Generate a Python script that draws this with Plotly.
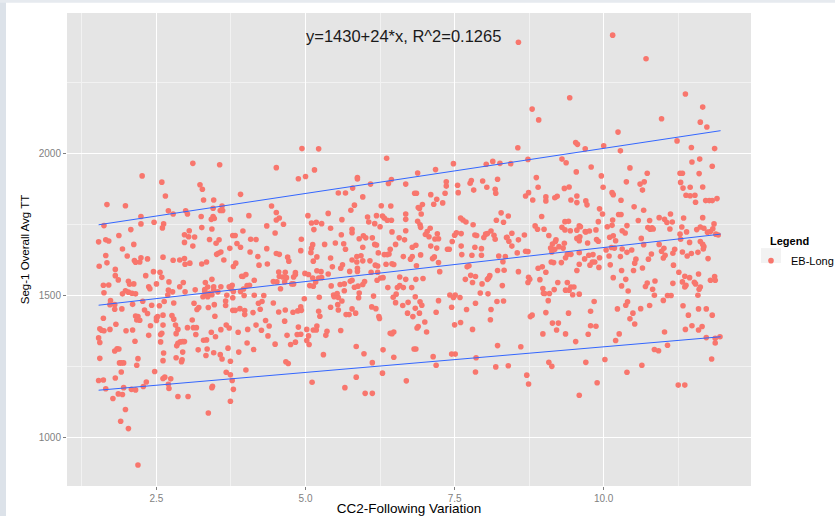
import plotly.graph_objects as go

# ---------------- data ----------------
pts_top = [(8.57,2392),(10.15,2417),(10.71,2334),(9.43,2197),(8.80,2157),(8.91,2119),(11.37,2210),
           (11.66,2164),(10.97,2123),(11.62,2111),(11.73,2094),(10.24,2076)]

pts_a = [(3.11,1966),(3.56,1961),(2.26,1922),(2.59,1900),(3.23,1891),(3.27,1875),(2.65,1851),(1.67,1821),
         (1.98,1817),(3.29,1837),(3.46,1837),(3.60,1816),(2.24,1779),(1.62,1747),(2.70,1799),(2.99,1799),
         (2.78,1788),(3.02,1788),(3.45,1808),(3.57,1800),(3.61,1800),(3.91,1857),(3.25,1779),(3.45,1779),
         (3.47,1772),(3.42,1769),(3.74,1768),(2.62,1753),(2.46,1759),(2.24,1753),(2.60,1739),(2.07,1733),
         (3.26,1740),(3.43,1735),(3.05,1729),(2.97,1715),(3.04,1708),(3.14,1707),(1.87,1712),(1.53,1690),
         (1.65,1697),(1.70,1693),(2.12,1681),(1.93,1665),(2.97,1688),(3.11,1675),(3.39,1698),(3.55,1697),
         (3.50,1685),(3.78,1712),(3.82,1712),(3.85,1684),(3.91,1671),(3.73,1667),(3.54,1650),(3.51,1646),
         (3.58,1654),(1.65,1642),(2.01,1640),(2.24,1634),(2.35,1630),(2.13,1624),(2.15,1618),(2.22,1619),
         (2.61,1636),(2.78,1625),(2.89,1626),(2.97,1631),(2.98,1611),(3.06,1615),(3.26,1612),(3.34,1619),
         (3.63,1626),(3.79,1603),(3.83,1615),(1.67,1616),(1.54,1604),(1.81,1593),(1.81,1571),(1.86,1556),
         (2.32,1571),(2.45,1585),(2.56,1583),(2.59,1565),(2.03,1551),(2.05,1541),(2.12,1542),(1.61,1537),
         (1.70,1538),(2.37,1532),(2.39,1525),(2.50,1542),(2.71,1549),(2.89,1532),(2.95,1547),(3.32,1547),
         (3.43,1558),(3.46,1532),(3.58,1532),(3.72,1532),(3.77,1537),(3.75,1525),(3.93,1569),(2.70,1520),
         (2.77,1514),(2.69,1503),(3.31,1522),(3.31,1515),(3.36,1531),(1.62,1511),(2.03,1513),(2.09,1509),
         (2.15,1507),(1.98,1518),(1.93,1507),(2.98,1514),(3.15,1521),(3.39,1509),(3.33,1503),(3.46,1521),
         (3.43,1504),(3.36,1497),(3.28,1497),(3.53,1514),(3.79,1515),(3.91,1515),(3.68,1502),(3.78,1493)]

pts_b = [(1.73,1483),(1.72,1469),(1.80,1469),(1.92,1454),(1.80,1453),(2.10,1470),(2.27,1481),(2.42,1467),
         (2.30,1450),(2.35,1438),(2.55,1465),(2.63,1480),(2.79,1475),(3.13,1474),(3.21,1459),(3.18,1452),
         (3.37,1459),(3.47,1469),(3.66,1466),(3.66,1482),(3.78,1449),(3.82,1449),(3.90,1455),(3.48,1428),
         (3.10,1415),(1.61,1421),(1.82,1400),(1.72,1382),(1.55,1384),(1.58,1379),(1.62,1377),(1.99,1377),
         (2.10,1380),(2.15,1429),(2.19,1427),(2.17,1415),(2.22,1414),(2.40,1395),(2.37,1361),(2.50,1423),
         (2.52,1427),(2.61,1432),(2.50,1413),(2.61,1397),(2.76,1431),(2.79,1418),(2.82,1397),(2.86,1382),
         (2.83,1367),(3.02,1388),(3.12,1388),(3.17,1388),(3.16,1364),(3.42,1372),(3.49,1356),(3.58,1381),
         (3.67,1397),(3.72,1387),(3.87,1372),(1.53,1352),(1.55,1336),(2.14,1340),(2.57,1364),(2.59,1368),
         (2.57,1338),(2.90,1338),(2.94,1339),(2.97,1339),(2.86,1333),(2.84,1324),(2.94,1302),(1.80,1306),
         (1.84,1314),(1.87,1313),(3.20,1310),(3.29,1344),(3.34,1345),(3.35,1313),(3.33,1290),(3.46,1300),
         (3.57,1293),(3.70,1316),(3.60,1278),(3.74,1270),(3.88,1302),(2.62,1299),(2.61,1272),(2.93,1275),
         (2.92,1268),(2.83,1282),(1.55,1280),(2.19,1279),(2.17,1256),(1.88,1264),(1.91,1264),(1.95,1264),
         (1.91,1232),(1.81,1211),(1.53,1202),(1.61,1204),(2.47,1234),(2.61,1209),(2.64,1214),(2.74,1208),
         (2.33,1197),(2.28,1181),(2.70,1189),(2.71,1174),(1.95,1177),(1.65,1173),(2.08,1171),(2.15,1169),
         (3.67,1231),(3.74,1222),(3.77,1202),(3.44,1182),(3.43,1177),(3.79,1171),(1.77,1139),(1.86,1155),
         (1.93,1153),(2.86,1146),(3.03,1146),(3.74,1129),(3.37,1088),(1.98,1100),(1.90,1059),(2.03,1033),
         (2.19,905)]

pts_c = [(4.94,2018),(5.22,2017),(6.36,1984),(4.51,1951),(5.15,1943),(4.88,1912),(5.00,1920),(5.87,1916),
         (5.87,1911),(5.55,1862),(5.67,1862),(5.79,1879),(6.09,1893),(6.39,1895),(6.44,1909),(6.68,1893),
         (6.83,1861),(4.43,1816),(4.51,1793),(4.05,1782),(4.56,1774),(4.51,1767),(4.63,1752),(4.35,1746),
         (5.04,1782),(5.38,1790),(5.82,1819),(5.76,1801),(5.96,1848),(5.10,1756),(5.18,1759),(5.27,1754),
         (5.14,1733),(5.42,1738),(5.61,1768),(6.04,1777),(6.06,1760),(6.19,1782),(6.29,1781),(6.32,1774),
         (6.37,1766),(6.44,1766),(6.27,1817),(6.43,1816),(6.68,1788),(6.68,1769),(6.16,1754),(6.25,1743),
         (6.45,1725),(6.68,1729),(3.95,1728),(5.78,1734),(5.78,1722),(5.60,1715),(4.08,1699),(4.17,1698),
         (4.49,1721),(4.93,1699),(5.50,1686),(5.32,1681),(5.12,1680),(5.10,1667),(4.35,1666),(4.92,1659),
         (5.90,1701),(5.97,1711),(6.01,1704),(6.12,1704),(5.64,1683),(5.67,1664),(5.96,1671),(6.16,1681),
         (6.19,1679),(6.51,1681),(6.57,1704),(6.66,1697),(4.07,1654),(4.51,1649),(4.56,1646),(4.70,1636),
         (4.72,1622),(4.20,1638),(4.36,1612),(4.22,1608),(5.09,1652),(5.19,1637),(5.42,1633),(5.13,1622),
         (5.45,1602),(5.59,1597),(5.62,1609),(5.78,1626),(5.86,1638),(5.93,1641),(5.86,1619),(5.96,1623),
         (5.87,1597),(6.22,1651),(6.32,1645),(6.37,1645),(6.40,1647),(6.42,1664),(6.64,1638),(6.76,1629),
         (6.79,1638),(6.79,1671),(6.35,1611),(6.45,1613),(6.48,1610),(6.08,1623),(6.21,1605),(6.17,1608),
         (4.55,1584),(4.56,1568),(4.66,1583),(4.62,1566),(4.83,1582),(4.83,1575),(4.80,1566),(4.99,1579),
         (5.05,1575),(5.19,1588),(5.26,1585),(5.38,1577),(5.12,1563),(5.22,1563),(5.27,1564),(5.17,1549),
         (4.68,1564),(4.77,1542),(4.80,1542),(4.65,1549),(4.52,1549),(4.46,1550),(4.14,1555),(3.95,1568),
         (4.00,1575),(3.96,1524),(4.02,1536),(4.06,1537),(5.74,1586),(5.87,1586),(6.10,1583),(6.21,1583),
         (6.26,1563),(6.20,1555),(6.30,1564),(6.58,1566),(6.68,1558),(6.38,1529),(6.54,1529),(6.58,1536),
         (6.64,1529),(6.78,1529),(5.88,1534),(5.96,1540),(5.82,1530),(5.78,1555),(5.99,1550),(5.75,1551),
         (5.58,1540),(5.65,1542),(5.65,1518),(5.43,1535),(5.07,1536),(5.13,1534),(4.58,1525),(4.30,1501),
         (3.97,1501),(4.14,1502),(4.98,1490),(5.23,1495),(5.47,1503),(5.48,1497),(5.53,1508),(5.55,1494),
         (5.89,1493),(5.90,1510),(6.14,1499),(6.47,1495),(6.52,1506)]

pts_d = [(3.98,1448),(3.98,1434),(4.12,1441),(4.21,1474),(4.27,1480),(4.46,1475),(4.24,1453),(4.55,1443),
         (4.66,1450),(4.79,1442),(4.87,1447),(4.92,1461),(4.93,1449),(5.22,1446),(5.24,1428),(5.42,1460),
         (5.54,1469),(5.55,1450),(5.61,1482),(5.78,1454),(5.68,1434),(5.73,1434),(5.84,1439),(6.11,1461),
         (6.18,1455),(6.23,1427),(6.24,1420),(6.51,1476),(6.63,1466),(6.72,1477),(6.71,1439),(6.80,1427),
         (4.17,1397),(4.03,1382),(4.26,1379),(4.33,1413),(4.39,1394),(4.65,1411),(4.37,1359),(4.02,1334),
         (4.13,1311),(4.49,1330),(4.69,1361),(4.88,1390),(4.92,1365),(4.86,1364),(4.83,1337),(4.75,1329),
         (5.02,1382),(5.05,1359),(5.02,1343),(5.06,1329),(5.13,1380),(5.19,1394),(5.18,1380),(5.36,1375),
         (5.34,1361),(5.59,1378),(5.30,1293),(4.67,1268),(4.71,1262),(4.00,1239),(5.85,1322),(5.98,1296),
         (6.12,1265),(6.30,1310),(6.42,1368),(6.48,1373),(6.45,1367),(6.48,1284),(6.29,1228),(5.85,1214),
         (5.11,1196),(5.66,1177),(6.00,1157),(6.12,1157),(6.69,1201),(6.82,1313)]

pts_e = [(8.56,2021),(9.53,2039),(9.56,2033),(9.69,2017),(7.48,1965),(8.03,1963),(8.14,1973),(8.26,1966),
         (8.44,1965),(8.73,1980),(9.30,1981),(9.37,1968),(7.18,1944),(6.88,1932),(9.54,1936),(7.36,1901),
         (7.36,1886),(7.55,1889),(7.56,1863),(7.78,1906),(7.76,1896),(7.82,1872),(7.97,1904),(8.04,1882),
         (8.22,1910),(8.18,1875),(8.19,1861),(6.86,1861),(7.34,1861),(7.10,1856),(7.20,1840),(7.15,1822),
         (7.30,1827),(6.96,1821),(6.91,1807),(6.94,1788),(6.89,1811),(8.87,1916),(8.90,1882),(9.42,1883),
         (9.34,1878),(8.74,1863),(8.69,1851),(8.81,1837),(9.03,1848),(9.03,1834),(9.18,1845),(9.22,1850),
         (9.45,1837),(9.55,1851),(9.55,1828),(9.70,1834),(9.72,1820),(7.60,1774),(7.64,1767),(7.69,1760),
         (8.20,1766),(8.28,1792),(8.32,1759),(8.40,1781),(8.96,1779),(9.35,1761),(9.41,1762),(9.59,1746),
         (9.61,1743),(9.30,1741),(9.35,1732),(9.44,1729),(9.55,1731),(9.69,1726),(6.88,1762),(6.92,1750),
         (6.93,1741),(7.09,1738),(7.04,1726),(7.01,1716),(7.07,1708),(7.21,1718),(7.17,1700),(7.23,1701),
         (7.50,1713),(7.53,1722),(7.61,1719),(7.81,1750),(7.84,1714),(7.87,1712),(7.99,1705),(8.02,1717),
         (8.11,1728),(8.05,1719),(8.16,1713),(8.18,1699),(8.37,1705),(8.38,1706),(8.46,1720),(8.41,1692),
         (8.46,1675),(8.57,1697),(8.67,1714),(8.85,1746),(8.89,1734),(9.00,1734),(9.08,1712),(9.20,1697),
         (9.19,1691),(9.14,1682),(9.11,1668),(9.18,1664),(9.25,1673),(9.34,1685),(9.55,1702),(9.59,1694),
         (9.60,1708),(9.70,1725),(9.73,1686),(6.85,1678),(7.10,1675),(7.20,1668),(7.38,1664),(7.41,1664),
         (7.46,1691),(7.61,1675),(7.84,1671),(7.95,1666),(6.93,1644),(7.13,1631),(7.16,1637),(7.23,1617),
         (7.62,1645),(7.79,1643),(7.95,1643),(8.24,1640),(8.35,1638),(8.31,1620),(8.55,1651),(8.69,1657),
         (8.73,1656),(9.13,1654),(9.32,1668),(9.39,1646),(9.36,1634),(9.45,1646),(9.59,1652),(9.68,1630),
         (9.12,1619),(9.16,1617),(9.29,1617),(9.59,1611),(9.55,1589),(6.86,1606),(7.71,1602),(7.74,1606),
         (7.25,1585),(6.85,1558),(6.97,1561),(7.77,1572),(7.85,1568),(7.80,1547),(7.68,1558),(7.96,1542),
         (8.09,1571),(8.07,1563),(8.05,1558),(8.22,1589),(8.33,1590),(8.30,1536),(8.57,1585),(8.74,1565),
         (8.76,1558),(8.73,1547),(8.93,1557),(8.90,1597),(8.97,1602),(9.03,1583),(8.98,1526),(8.99,1509),
         (9.01,1508),(9.09,1508),(9.17,1522),(9.23,1547),(9.39,1547),(9.45,1531),(9.42,1520),(9.50,1531),
         (9.36,1520),(9.48,1504),(9.59,1506),(6.84,1497),(7.42,1503),(7.51,1503),(7.48,1494),(7.59,1494),
         (7.93,1510),(8.06,1507)]

pts_f = [(6.92,1479),(6.95,1467),(6.84,1456),(6.91,1439),(7.23,1483),(7.45,1460),(7.19,1442),(7.00,1408),
         (6.89,1392),(6.87,1387),(7.03,1373),(7.70,1452),(7.85,1474),(8.21,1480),(8.32,1482),(8.11,1452),
         (8.10,1416),(7.60,1406),(7.50,1398),(7.80,1382),(8.77,1427),(8.80,1432),(9.03,1441),(9.07,1483),
         (9.41,1439),(9.14,1404),(9.24,1404),(9.21,1380),(8.98,1366),(9.36,1366),(9.53,1339),(9.74,1365),
         (6.85,1313),(8.22,1325),(8.61,1321),(7.14,1286),(7.45,1295),(7.51,1295),(7.86,1282),(7.19,1256),
         (7.85,1232),(8.19,1250),(8.40,1254),(9.08,1266),(9.13,1252),(9.70,1266),(8.71,1221),(8.74,1190),
         (9.59,1150)]

pts_g = [(11.23,2045),(11.47,2022),(11.86,2018),(10.00,2028),(10.28,2010),(11.48,1971),(11.61,1981),
         (9.79,1953),(10.44,1950),(11.82,1956),(9.96,1922),(10.73,1931),(10.38,1901),(10.61,1893),
         (10.68,1901),(10.65,1872),(9.99,1882),(11.28,1931),(11.32,1931),(11.60,1930),(11.29,1899),
         (11.33,1879),(11.45,1882),(11.66,1883),(10.14,1863),(10.16,1856),(10.29,1836),(11.38,1854),
         (11.45,1852),(11.53,1854),(11.54,1829),(11.71,1835),(11.77,1835),(11.82,1835),(11.90,1842),
         (10.51,1813),(10.67,1801),(9.93,1806),(9.98,1788),(10.25,1786),(10.29,1786),(10.15,1767),
         (9.91,1761),(10.14,1748),(10.06,1743),(10.58,1765),(10.77,1765),(10.93,1775),(11.02,1769),
         (11.06,1758),(11.12,1788),(11.15,1760),(11.34,1774),(11.66,1775),(10.39,1747),(10.74,1740),
         (10.78,1734),(10.81,1739),(11.11,1735),(11.31,1742),(11.39,1725),(11.56,1733),(11.62,1742),
         (11.68,1738),(11.74,1724),(11.83,1736),(11.85,1753),(11.79,1726),(11.88,1717),(11.92,1714),
         (10.31,1729),(10.36,1721),(9.87,1732),(9.76,1728),(10.16,1711),(10.10,1706),(10.20,1694),
         (9.88,1698),(9.91,1692),(11.28,1717),(11.29,1699),(11.44,1688),(11.62,1691),(11.66,1681),
         (11.68,1673),(11.67,1665),(10.63,1702),(10.67,1680),(10.83,1735),(10.04,1661),(10.13,1670),
         (10.18,1668),(10.31,1665),(10.47,1661),(9.75,1643),(9.82,1645),(9.93,1634),(10.09,1640),
         (10.28,1638),(10.39,1653),(10.54,1629),(10.75,1629),(10.80,1647),(10.93,1681),(10.97,1657),
         (11.01,1667),(11.03,1643),(11.00,1633),(11.16,1650),(11.19,1664),(11.32,1654),(11.40,1640),
         (11.47,1649),(11.58,1653),(11.75,1631),(9.81,1619),(9.77,1608),(9.85,1619),(9.92,1600),
         (10.11,1609),(10.52,1615),(10.65,1598),(10.30,1589),(10.50,1589),(11.17,1608),(10.16,1564),
         (10.37,1558),(10.30,1535),(10.41,1517),(10.70,1533),(10.73,1545),(10.82,1523),(10.86,1552),
         (10.85,1502),(11.16,1544),(11.26,1583),(11.32,1549),(11.36,1569),(11.44,1564),(11.38,1537),
         (11.36,1531),(11.52,1548),(11.54,1542),(11.59,1577),(11.62,1531),(11.60,1523),(11.58,1502),
         (11.79,1555),(11.86,1568),(11.87,1555),(11.07,1501),(11.13,1501)]

pts_h = [(9.84,1480),(9.78,1446),(10.23,1454),(10.37,1467),(10.40,1479),(10.49,1439),(10.44,1419),
         (10.52,1401),(10.62,1455),(10.77,1466),(11.00,1484),(11.33,1465),(11.42,1432),(11.59,1454),
         (11.72,1454),(11.82,1432),(9.78,1395),(9.87,1393),(10.26,1366),(10.20,1343),(11.02,1373),
         (11.37,1382),(11.48,1395),(11.59,1380),(11.65,1392),(11.72,1353),(11.87,1351),(11.95,1356),
         (11.87,1334),(10.85,1311),(10.92,1307),(11.07,1326),(10.02,1276),(11.81,1278),(10.39,1231),
         (10.64,1256),(9.89,1194),(11.25,1186),(11.36,1186)]

# fitted lines (lm fit and the two outer bands), evaluated at the ends of the data range
line_x = [1.53, 11.96]
fit_mid = [1467, 1717]
fit_upper = [1750, 2081]
fit_lower = [1168, 1356]

x_ticks = [2.5, 5.0, 7.5, 10.0]
x_tick_labels = ["2.5", "5.0", "7.5", "10.0"]
x_minor = [1.25, 3.75, 6.25, 8.75, 11.25]
y_ticks = [1000, 1500, 2000]
y_minor = [1250, 1750, 2250]

all_pts = pts_top + pts_a + pts_b + pts_c + pts_d + pts_e + pts_f + pts_g + pts_h
cc2 = [p[0] for p in all_pts]
seg1 = [p[1] for p in all_pts]

# ---------------- figure ----------------
FONT = "Liberation Sans, Arial, sans-serif"
fig = go.Figure()
fig.add_trace(go.Scatter(x=cc2, y=seg1, mode="markers", name="EB-Long",
                         marker=dict(color="#F8766D", size=5.6, line=dict(width=0))))
for ys in (fit_upper, fit_mid, fit_lower):
    fig.add_trace(go.Scatter(x=line_x, y=ys, mode="lines", showlegend=False,
                             line=dict(color="#3366FF", width=1), hoverinfo="skip"))

axis_common = dict(showgrid=True, gridcolor="white", gridwidth=1.3, zeroline=False, showline=False,
                   ticks="outside", ticklen=3, tickwidth=1, tickcolor="#7F7F7F",
                   tickfont=dict(family=FONT, size=10, color="#7F7F7F"), automargin=False)

fig.update_layout(
    width=835, height=516,
    margin=dict(l=67, r=84, t=13, b=30),
    paper_bgcolor="white", plot_bgcolor="#E5E5E5",
    font=dict(family=FONT, color="black"),
    xaxis=dict(range=[1.0, 12.47], tickvals=x_ticks, ticktext=x_tick_labels,
               minor=dict(tickvals=x_minor, showgrid=True, gridcolor="#F2F2F2", gridwidth=0.7, ticks=""),
               title=dict(text="CC2-Following Variation", font=dict(family=FONT, size=13.5, color="black"),
                          standoff=8),
               **axis_common),
    yaxis=dict(range=[831, 2495], tickvals=y_ticks,
               minor=dict(tickvals=y_minor, showgrid=True, gridcolor="#F2F2F2", gridwidth=0.7, ticks=""),
               title=dict(text="Seg-1 Overall Avg TT", font=dict(family=FONT, size=11.5, color="black"),
                          standoff=6),
               **axis_common),
    legend=dict(font=dict(family=FONT, size=11, color="black"),
                xref="container", yref="container",
                x=0.8994, xanchor="left", y=0.523, yanchor="top",
                bgcolor="rgba(0,0,0,0)", itemwidth=30, tracegroupgap=0),
    annotations=[
        dict(x=6.64, y=2414, xref="x", yref="y", text="y=1430+24*x, R^2=0.1265",
             showarrow=False, font=dict(family=FONT, size=16.5, color="#1a1a1a")),
        dict(x=1.0249, y=0.518, xref="paper", yref="paper", xanchor="left", yanchor="middle",
             text="<b>Legend</b>", showarrow=False, font=dict(family=FONT, size=11, color="black")),
    ],
    shapes=[
        dict(type="rect", xref="paper", yref="paper", x0=-0.098, x1=-0.0892, y0=-0.07, y1=1.03,
             fillcolor="#DCE2E9", line=dict(width=0), layer="below"),
        dict(type="rect", xref="paper", yref="paper", x0=-0.098, x1=1.13, y0=1.0215, y1=1.03,
             fillcolor="#E6EAEF", line=dict(width=0), layer="below"),
        dict(type="rect", xref="paper", yref="paper", x0=1.0146, x1=1.0439, y0=0.4715, y1=0.503,
             fillcolor="#F2F2F2", line=dict(width=0), layer="below"),
    ],
)

fig.write_html("out.html", config={"displayModeBar": False},
               post_script="document.body.style.margin='0px';")
